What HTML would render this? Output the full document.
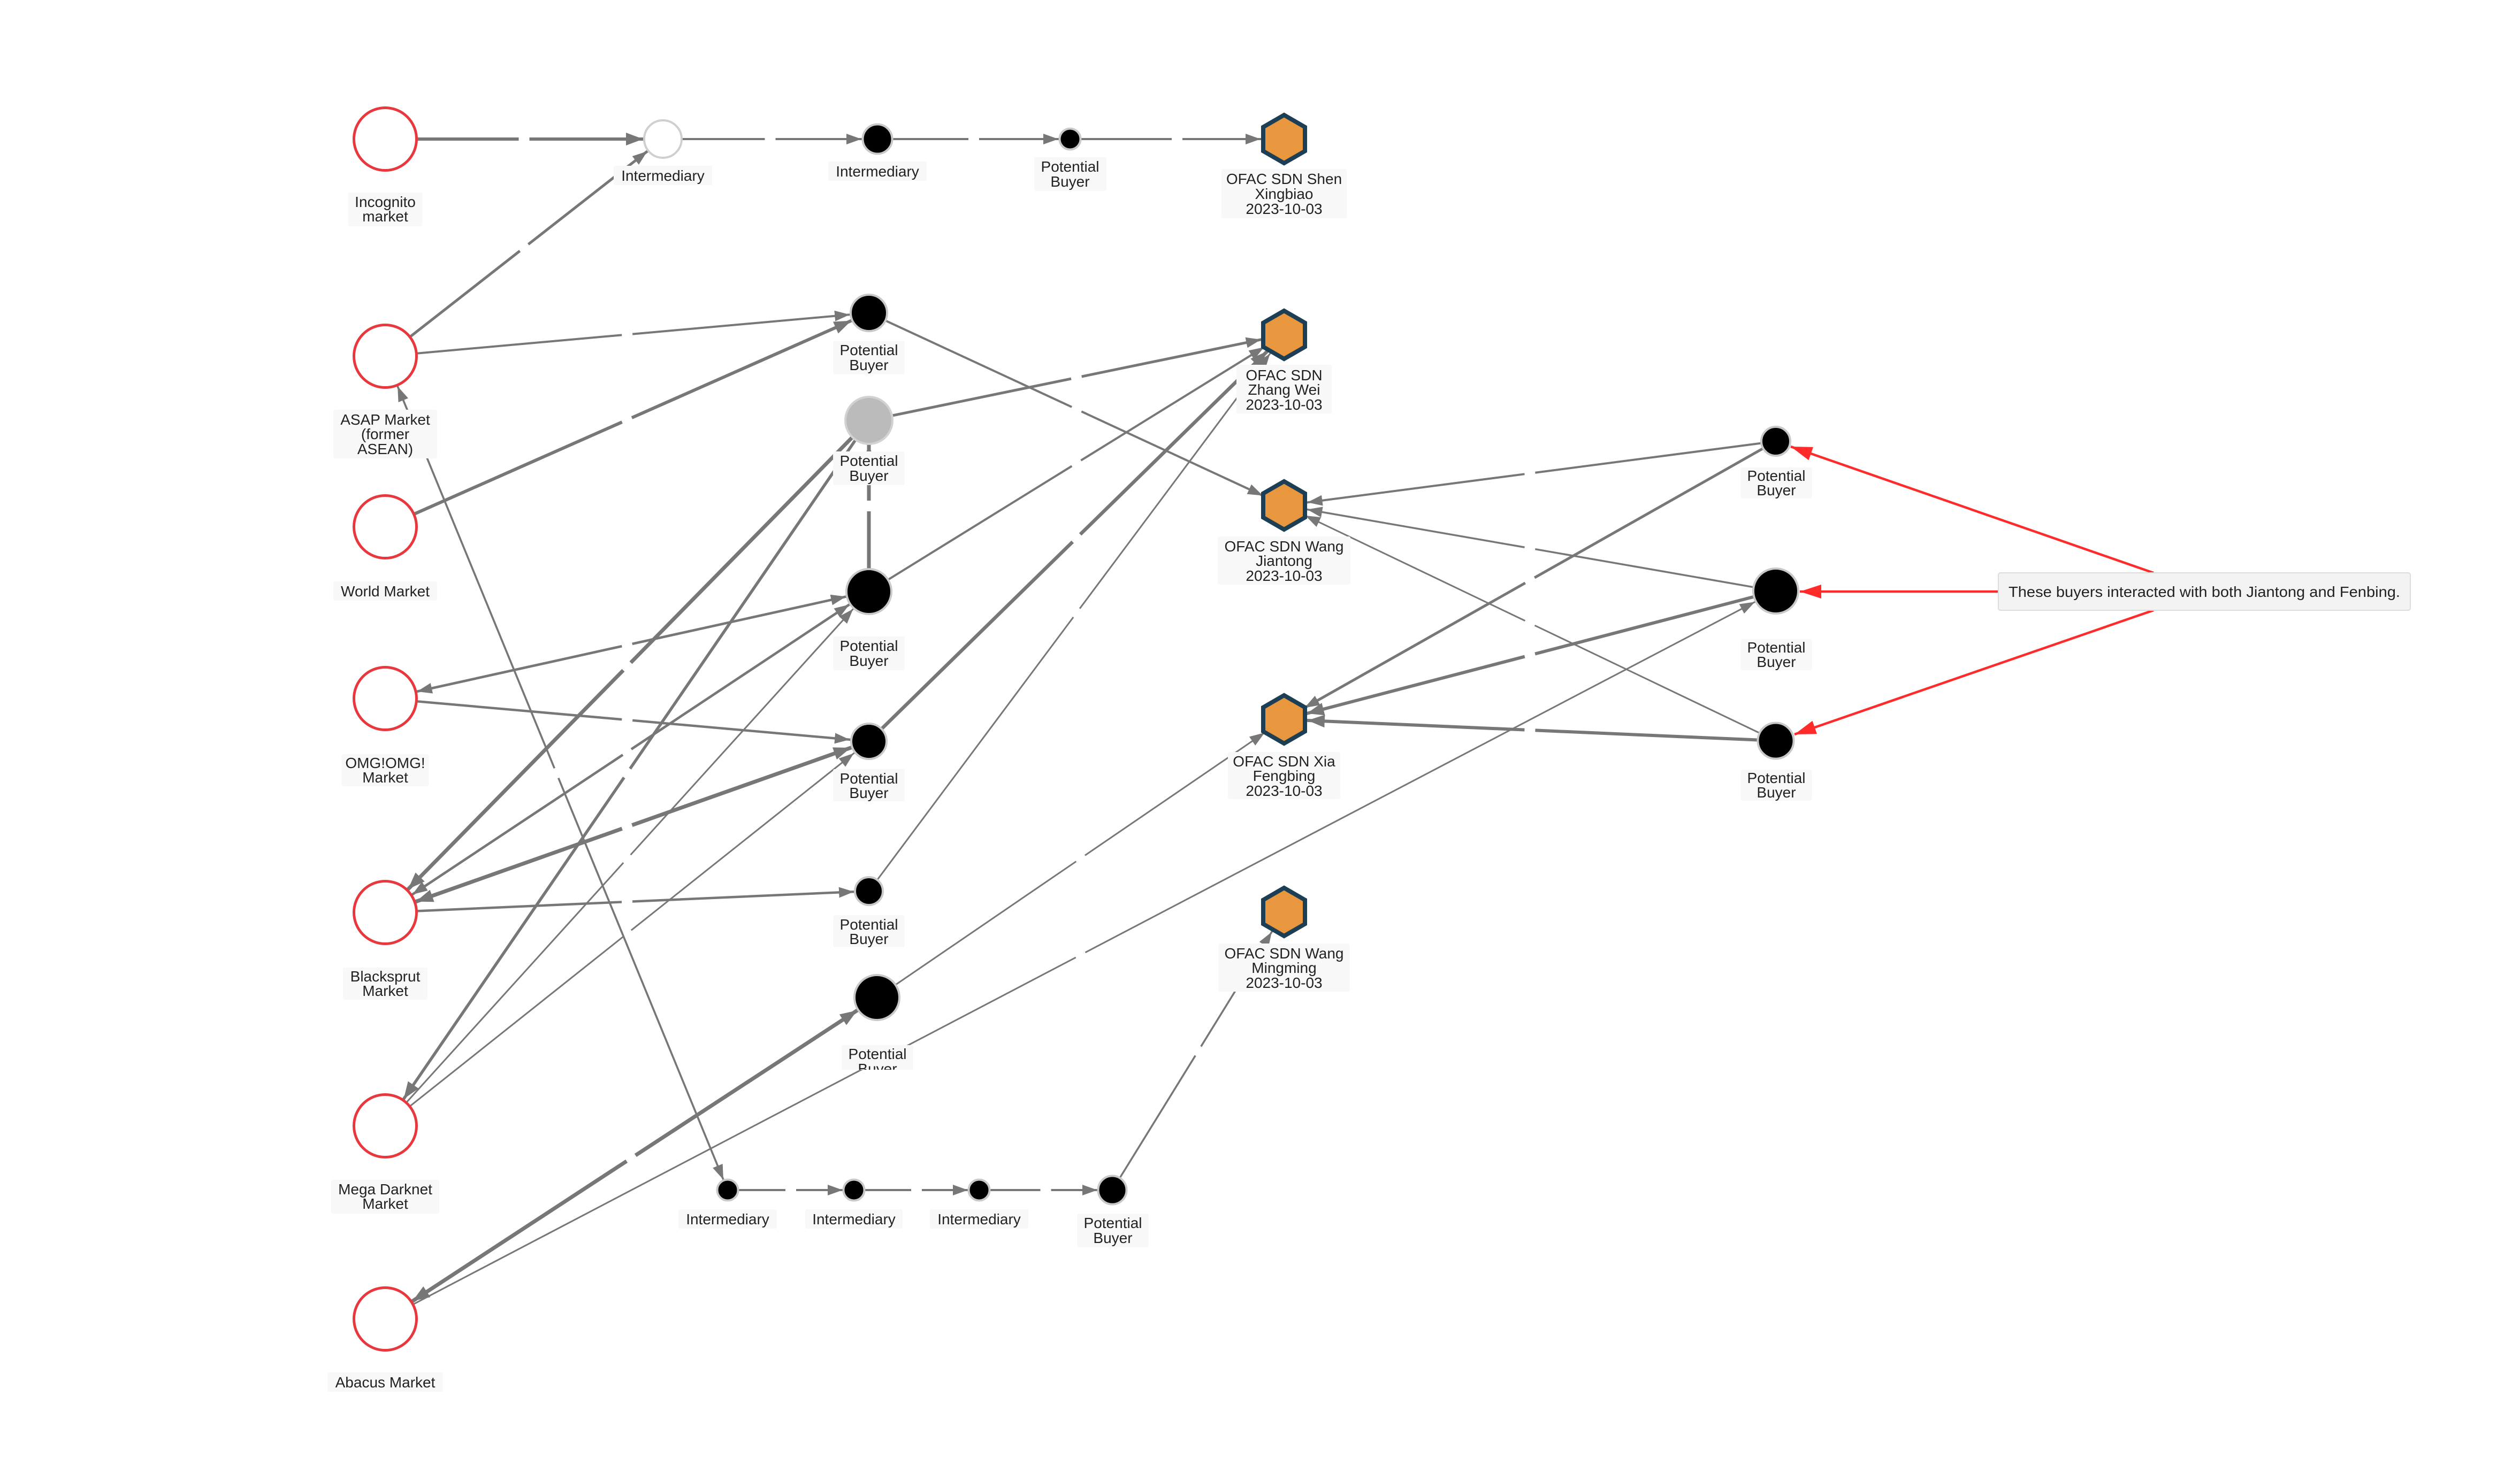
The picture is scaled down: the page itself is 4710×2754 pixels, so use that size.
<!DOCTYPE html>
<html>
<head>
<meta charset="utf-8">
<style>
html,body{margin:0;padding:0;background:#fff;}
svg{display:block;}
.lb{font-family:"Liberation Sans",sans-serif;font-size:28px;fill:#222;text-anchor:middle;}
.bx{fill:#f8f8f8;}
.e{stroke:#777;fill:none;}
.red{fill:#fff;stroke:#e8383d;stroke-width:5;}
.blk{fill:#000;stroke:#c8c8c8;stroke-width:4;}
.hex{fill:#e9973e;stroke:#1d3f55;stroke-width:8;stroke-linejoin:miter;}
</style>
</head>
<body>
<svg width="4710" height="2754" viewBox="0 0 4710 2754" xmlns="http://www.w3.org/2000/svg">
<defs>
<marker id="a21" markerUnits="userSpaceOnUse" markerWidth="40" markerHeight="30" refX="49" refY="10" orient="auto"><path d="M0,0L28,10L0,20z" fill="#777"/></marker>
<marker id="a22" markerUnits="userSpaceOnUse" markerWidth="40" markerHeight="30" refX="50" refY="10" orient="auto"><path d="M0,0L28,10L0,20z" fill="#777"/></marker>
<marker id="a28" markerUnits="userSpaceOnUse" markerWidth="40" markerHeight="30" refX="56" refY="10" orient="auto"><path d="M0,0L28,10L0,20z" fill="#777"/></marker>
<marker id="a30" markerUnits="userSpaceOnUse" markerWidth="40" markerHeight="30" refX="58" refY="10" orient="auto"><path d="M0,0L28,10L0,20z" fill="#777"/></marker>
<marker id="a36" markerUnits="userSpaceOnUse" markerWidth="40" markerHeight="30" refX="64" refY="10" orient="auto"><path d="M0,0L28,10L0,20z" fill="#777"/></marker>
<marker id="a37" markerUnits="userSpaceOnUse" markerWidth="40" markerHeight="30" refX="65" refY="10" orient="auto"><path d="M0,0L28,10L0,20z" fill="#777"/></marker>
<marker id="a44" markerUnits="userSpaceOnUse" markerWidth="40" markerHeight="30" refX="72" refY="10" orient="auto"><path d="M0,0L28,10L0,20z" fill="#777"/></marker>
<marker id="a61" markerUnits="userSpaceOnUse" markerWidth="40" markerHeight="30" refX="89" refY="10" orient="auto"><path d="M0,0L28,10L0,20z" fill="#777"/></marker>
<marker id="a36t" markerUnits="userSpaceOnUse" markerWidth="40" markerHeight="30" refX="68" refY="12" orient="auto"><path d="M0,0L32,12L0,24z" fill="#777"/></marker>
<marker id="a37t" markerUnits="userSpaceOnUse" markerWidth="40" markerHeight="30" refX="69" refY="12" orient="auto"><path d="M0,0L32,12L0,24z" fill="#777"/></marker>
<marker id="a44t" markerUnits="userSpaceOnUse" markerWidth="40" markerHeight="30" refX="76" refY="12" orient="auto"><path d="M0,0L32,12L0,24z" fill="#777"/></marker>
<marker id="a46t" markerUnits="userSpaceOnUse" markerWidth="40" markerHeight="30" refX="78" refY="12" orient="auto"><path d="M0,0L32,12L0,24z" fill="#777"/></marker>
<marker id="a61t" markerUnits="userSpaceOnUse" markerWidth="40" markerHeight="30" refX="93" refY="12" orient="auto"><path d="M0,0L32,12L0,24z" fill="#777"/></marker>
<marker id="ar" markerUnits="userSpaceOnUse" markerWidth="45" markerHeight="30" refX="40" refY="13" orient="auto"><path d="M0,0L40,13L0,26z" fill="#ff2b2b"/></marker>
<clipPath id="clipPB6"><rect x="1573" y="1954" width="134" height="46"/></clipPath>
</defs>

<!-- ===== gray edges ===== -->
<g class="e">
<line x1="720" y1="260" x2="1239" y2="260" stroke-width="6" stroke-dasharray="249.5 20 1000" marker-end="url(#a37t)"/>
<line x1="1239" y1="260" x2="1640" y2="260" stroke-width="4" stroke-dasharray="190.5 20 1000" marker-end="url(#a30)"/>
<line x1="1640" y1="260" x2="2000" y2="260" stroke-width="4" stroke-dasharray="170 20 1000" marker-end="url(#a22)"/>
<line x1="2000" y1="260" x2="2400" y2="260" stroke-width="4" stroke-dasharray="190 20 1000" marker-end="url(#a44)"/>
<line x1="720" y1="666" x2="1239" y2="260" stroke-width="5" stroke-dasharray="319.5 20 1000" marker-end="url(#a37)"/>
<line x1="720" y1="666" x2="1624" y2="585" stroke-width="4" stroke-dasharray="444 20 1000" marker-end="url(#a36)"/>
<line x1="720" y1="985" x2="1624" y2="585" stroke-width="6" stroke-dasharray="484 20 1100" marker-end="url(#a36t)"/>
<line x1="1624" y1="585" x2="2400" y2="945" stroke-width="4" stroke-dasharray="418 20 1000" marker-end="url(#a44)"/>
<line x1="720" y1="666" x2="1360" y2="2225" stroke-width="3.5" stroke-dasharray="832.5 20 2000" marker-end="url(#a21)"/>
<line x1="1360" y1="2225" x2="720" y2="666" stroke-width="3.5" stroke-dasharray="832.5 20 2000" marker-end="url(#a61)"/>
<line x1="1624" y1="786" x2="2400" y2="626" stroke-width="5" stroke-dasharray="386 20 1000" marker-end="url(#a44)"/>
<line x1="1624" y1="1106" x2="1624" y2="786" stroke-width="7" stroke-dasharray="150 20 1000" marker-end="url(#a46t)"/>
<line x1="1624" y1="1106" x2="2400" y2="626" stroke-width="4" stroke-dasharray="446 20 1000" marker-end="url(#a44)"/>
<line x1="1624" y1="1386" x2="2400" y2="626" stroke-width="6.5" stroke-dasharray="533 20 1200" marker-end="url(#a44t)"/>
<line x1="1624" y1="1666" x2="2400" y2="626" stroke-width="3" stroke-dasharray="639 20 1400" marker-end="url(#a44)"/>
<line x1="720" y1="1306" x2="1624" y2="1106" stroke-width="4.5" stroke-dasharray="453 20 1000" marker-end="url(#a44)"/>
<line x1="1624" y1="1106" x2="720" y2="1306" stroke-width="4.5" stroke-dasharray="453 20 1000" marker-end="url(#a61)"/>
<line x1="720" y1="1306" x2="1624" y2="1386" stroke-width="4.5" stroke-dasharray="444 20 1000" marker-end="url(#a36)"/>
<line x1="1624" y1="786" x2="720" y2="1706" stroke-width="7" stroke-dasharray="635 20 1400" marker-end="url(#a61t)"/>
<line x1="1624" y1="1106" x2="720" y2="1706" stroke-width="4.5" stroke-dasharray="532 20 1200" marker-end="url(#a61)"/>
<line x1="720" y1="1706" x2="1624" y2="1106" stroke-width="4.5" stroke-dasharray="532 20 1200" marker-end="url(#a44)"/>
<line x1="1624" y1="1386" x2="720" y2="1706" stroke-width="7" stroke-dasharray="469.5 20 1000" marker-end="url(#a61t)"/>
<line x1="720" y1="1706" x2="1624" y2="1386" stroke-width="7" stroke-dasharray="469.5 20 1000" marker-end="url(#a36t)"/>
<line x1="720" y1="1706" x2="1624" y2="1666" stroke-width="4.5" stroke-dasharray="442.5 20 1000" marker-end="url(#a28)"/>
<line x1="1624" y1="786" x2="720" y2="2105" stroke-width="5.5" stroke-dasharray="789.5 20 1700" marker-end="url(#a61t)"/>
<line x1="720" y1="2105" x2="1624" y2="1106" stroke-width="3" stroke-dasharray="663.5 20 1400" marker-end="url(#a44)"/>
<line x1="720" y1="2105" x2="1624" y2="1386" stroke-width="3" stroke-dasharray="567.5 20 1200" marker-end="url(#a36)"/>
<line x1="720" y1="2466" x2="1639" y2="1865" stroke-width="7" stroke-dasharray="539 20 1200" marker-end="url(#a44t)"/>
<line x1="1639" y1="1865" x2="720" y2="2466" stroke-width="7" stroke-dasharray="539 20 1200" marker-end="url(#a61t)"/>
<line x1="720" y1="2466" x2="3319" y2="1105" stroke-width="3" stroke-dasharray="1457 20 3000" marker-end="url(#a44)"/>
<line x1="1639" y1="1865" x2="2400" y2="1345" stroke-width="3" stroke-dasharray="451 20 1000" marker-end="url(#a44)"/>
<line x1="3319" y1="825" x2="2400" y2="945" stroke-width="4" stroke-dasharray="453.5 20 1000" marker-end="url(#a44)"/>
<line x1="3319" y1="1105" x2="2400" y2="945" stroke-width="3.5" stroke-dasharray="456.5 20 1000" marker-end="url(#a44)"/>
<line x1="3319" y1="1385" x2="2400" y2="945" stroke-width="3" stroke-dasharray="499.5 20 1100" marker-end="url(#a44)"/>
<line x1="3319" y1="825" x2="2400" y2="1345" stroke-width="5" stroke-dasharray="518 20 1100" marker-end="url(#a44)"/>
<line x1="3319" y1="1105" x2="2400" y2="1345" stroke-width="6" stroke-dasharray="465 20 1000" marker-end="url(#a44t)"/>
<line x1="3319" y1="1385" x2="2400" y2="1345" stroke-width="6" stroke-dasharray="450 20 1000" marker-end="url(#a44t)"/>
<line x1="1360" y1="2225" x2="1596" y2="2225" stroke-width="4" stroke-dasharray="108 20 300" marker-end="url(#a21)"/>
<line x1="1596" y1="2225" x2="1830" y2="2225" stroke-width="4" stroke-dasharray="107 20 300" marker-end="url(#a21)"/>
<line x1="1830" y1="2225" x2="2079" y2="2225" stroke-width="4" stroke-dasharray="114.5 20 300" marker-end="url(#a28)"/>
<line x1="2079" y1="2225" x2="2400" y2="1705" stroke-width="3.5" stroke-dasharray="295.5 20 700" marker-end="url(#a44)"/>
</g>

<!-- ===== red arrows ===== -->
<g stroke="#ff2b2b" stroke-width="4.5" fill="none">
<line x1="4025" y1="1071" x2="3347" y2="835" marker-end="url(#ar)"/>
<line x1="3735" y1="1106" x2="3364" y2="1106" marker-end="url(#ar)"/>
<line x1="4025" y1="1141" x2="3354" y2="1373" marker-end="url(#ar)"/>
</g>

<!-- ===== nodes ===== -->
<circle class="red" cx="720" cy="260" r="58.5"/>
<circle class="red" cx="720" cy="666" r="58.5"/>
<circle class="red" cx="720" cy="985" r="58.5"/>
<circle class="red" cx="720" cy="1306" r="58.5"/>
<circle class="red" cx="720" cy="1706" r="58.5"/>
<circle class="red" cx="720" cy="2105" r="58.5"/>
<circle class="red" cx="720" cy="2466" r="58.5"/>

<circle cx="1239" cy="260" r="35" fill="#fff" stroke="#cfcfcf" stroke-width="4"/>
<circle class="blk" cx="1640" cy="260" r="27.5"/>
<circle class="blk" cx="2000" cy="260" r="19.5"/>

<circle class="blk" cx="1624" cy="585" r="34"/>
<circle cx="1624" cy="786" r="44" fill="#bbbbbb" stroke="#d2d2d2" stroke-width="4"/>
<circle class="blk" cx="1624" cy="1106" r="42"/>
<circle class="blk" cx="1624" cy="1386" r="33"/>
<circle class="blk" cx="1624" cy="1666" r="26"/>
<circle class="blk" cx="1639" cy="1865" r="42"/>

<circle class="blk" cx="3319" cy="825" r="27"/>
<circle class="blk" cx="3319" cy="1105" r="42"/>
<circle class="blk" cx="3319" cy="1385" r="33.5"/>

<circle class="blk" cx="1360" cy="2225" r="19.5"/>
<circle class="blk" cx="1596" cy="2225" r="19.5"/>
<circle class="blk" cx="1830" cy="2225" r="19.5"/>
<circle class="blk" cx="2079" cy="2225" r="26.5"/>

<polygon class="hex" transform="translate(2400,260)" points="0,-45 39,-22.5 39,22.5 0,45 -39,22.5 -39,-22.5"/>
<polygon class="hex" transform="translate(2400,626)" points="0,-45 39,-22.5 39,22.5 0,45 -39,22.5 -39,-22.5"/>
<polygon class="hex" transform="translate(2400,945)" points="0,-45 39,-22.5 39,22.5 0,45 -39,22.5 -39,-22.5"/>
<polygon class="hex" transform="translate(2400,1345)" points="0,-45 39,-22.5 39,22.5 0,45 -39,22.5 -39,-22.5"/>
<polygon class="hex" transform="translate(2400,1705)" points="0,-45 39,-22.5 39,22.5 0,45 -39,22.5 -39,-22.5"/>

<!-- ===== labels ===== -->
<rect class="bx" x="650.5" y="360" width="139" height="63" rx="3"/>
<text class="lb"><tspan x="720" y="387">Incognito</tspan><tspan x="720" y="414">market</tspan></text>

<rect class="bx" x="623" y="766" width="194" height="91" rx="3"/>
<text class="lb"><tspan x="720" y="794">ASAP Market</tspan><tspan x="720" y="821">(former</tspan><tspan x="720" y="849">ASEAN)</tspan></text>

<rect class="bx" x="623" y="1087" width="194" height="36" rx="3"/>
<text class="lb" x="720" y="1115">World Market</text>

<rect class="bx" x="638.5" y="1410" width="163" height="60" rx="3"/>
<text class="lb"><tspan x="720" y="1436">OMG!OMG!</tspan><tspan x="720" y="1463">Market</tspan></text>

<rect class="bx" x="641" y="1809" width="158" height="60" rx="3"/>
<text class="lb"><tspan x="720" y="1835">Blacksprut</tspan><tspan x="720" y="1862">Market</tspan></text>

<rect class="bx" x="619" y="2206" width="202" height="63" rx="3"/>
<text class="lb"><tspan x="720" y="2233">Mega Darknet</tspan><tspan x="720" y="2260">Market</tspan></text>

<rect class="bx" x="612.5" y="2566" width="215" height="36" rx="3"/>
<text class="lb" x="720" y="2594">Abacus Market</text>

<rect class="bx" x="1147" y="310" width="184" height="36" rx="3"/>
<text class="lb" x="1239" y="338">Intermediary</text>

<rect class="bx" x="1548" y="302" width="184" height="36" rx="3"/>
<text class="lb" x="1640" y="330">Intermediary</text>

<rect class="bx" x="1933" y="294" width="135" height="63" rx="3"/>
<text class="lb"><tspan x="2000" y="321">Potential</tspan><tspan x="2000" y="349">Buyer</tspan></text>

<rect class="bx" x="2283" y="316" width="234" height="92" rx="3"/>
<text class="lb"><tspan x="2400" y="344">OFAC SDN Shen</tspan><tspan x="2400" y="372">Xingbiao</tspan><tspan x="2400" y="400">2023-10-03</tspan></text>

<rect class="bx" x="1557" y="637" width="134" height="63" rx="3"/>
<text class="lb"><tspan x="1624" y="664">Potential</tspan><tspan x="1624" y="692">Buyer</tspan></text>

<rect class="bx" x="1557" y="844" width="134" height="63" rx="3"/>
<text class="lb"><tspan x="1624" y="871">Potential</tspan><tspan x="1624" y="899">Buyer</tspan></text>

<rect class="bx" x="1557" y="1190" width="134" height="63" rx="3"/>
<text class="lb"><tspan x="1624" y="1217">Potential</tspan><tspan x="1624" y="1245">Buyer</tspan></text>

<rect class="bx" x="1557" y="1438" width="134" height="60" rx="3"/>
<text class="lb"><tspan x="1624" y="1465">Potential</tspan><tspan x="1624" y="1492">Buyer</tspan></text>

<rect class="bx" x="1557" y="1711" width="134" height="60" rx="3"/>
<text class="lb"><tspan x="1624" y="1738">Potential</tspan><tspan x="1624" y="1765">Buyer</tspan></text>

<g clip-path="url(#clipPB6)">
<rect class="bx" x="1573" y="1954" width="134" height="60" rx="3"/>
<text class="lb"><tspan x="1640" y="1980">Potential</tspan><tspan x="1640" y="2008">Buyer</tspan></text>
</g>

<rect class="bx" x="2311" y="682" width="178" height="91" rx="3"/>
<text class="lb"><tspan x="2400" y="711">OFAC SDN</tspan><tspan x="2400" y="738">Zhang Wei</tspan><tspan x="2400" y="766">2023-10-03</tspan></text>

<rect class="bx" x="2276" y="1003" width="248" height="90" rx="3"/>
<text class="lb"><tspan x="2400" y="1031">OFAC SDN Wang</tspan><tspan x="2400" y="1058">Jiantong</tspan><tspan x="2400" y="1086">2023-10-03</tspan></text>

<rect class="bx" x="2295" y="1406" width="210" height="88" rx="3"/>
<text class="lb"><tspan x="2400" y="1433">OFAC SDN Xia</tspan><tspan x="2400" y="1460">Fengbing</tspan><tspan x="2400" y="1488">2023-10-03</tspan></text>

<rect class="bx" x="2277" y="1764" width="246" height="90" rx="3"/>
<text class="lb"><tspan x="2400" y="1792">OFAC SDN Wang</tspan><tspan x="2400" y="1819">Mingming</tspan><tspan x="2400" y="1847">2023-10-03</tspan></text>

<rect class="bx" x="3253" y="874" width="134" height="58" rx="3"/>
<text class="lb"><tspan x="3320" y="899">Potential</tspan><tspan x="3320" y="926">Buyer</tspan></text>

<rect class="bx" x="3253" y="1195" width="134" height="58" rx="3"/>
<text class="lb"><tspan x="3320" y="1220">Potential</tspan><tspan x="3320" y="1247">Buyer</tspan></text>

<rect class="bx" x="3253" y="1439" width="134" height="58" rx="3"/>
<text class="lb"><tspan x="3320" y="1464">Potential</tspan><tspan x="3320" y="1491">Buyer</tspan></text>

<rect class="bx" x="1268" y="2261" width="184" height="36" rx="3"/>
<text class="lb" x="1360" y="2289">Intermediary</text>

<rect class="bx" x="1505" y="2261" width="182" height="36" rx="3"/>
<text class="lb" x="1596" y="2289">Intermediary</text>

<rect class="bx" x="1738" y="2261" width="184" height="36" rx="3"/>
<text class="lb" x="1830" y="2289">Intermediary</text>

<rect class="bx" x="2013" y="2269" width="134" height="63" rx="3"/>
<text class="lb"><tspan x="2080" y="2296">Potential</tspan><tspan x="2080" y="2324">Buyer</tspan></text>

<!-- ===== callout ===== -->
<rect x="3735" y="1071" width="770" height="70" rx="4" fill="#f3f3f3" stroke="#dcdcdc" stroke-width="2"/>
<text class="lb" x="4120" y="1116" textLength="732" lengthAdjust="spacingAndGlyphs">These buyers interacted with both Jiantong and Fenbing.</text>
</svg>
</body>
</html>
